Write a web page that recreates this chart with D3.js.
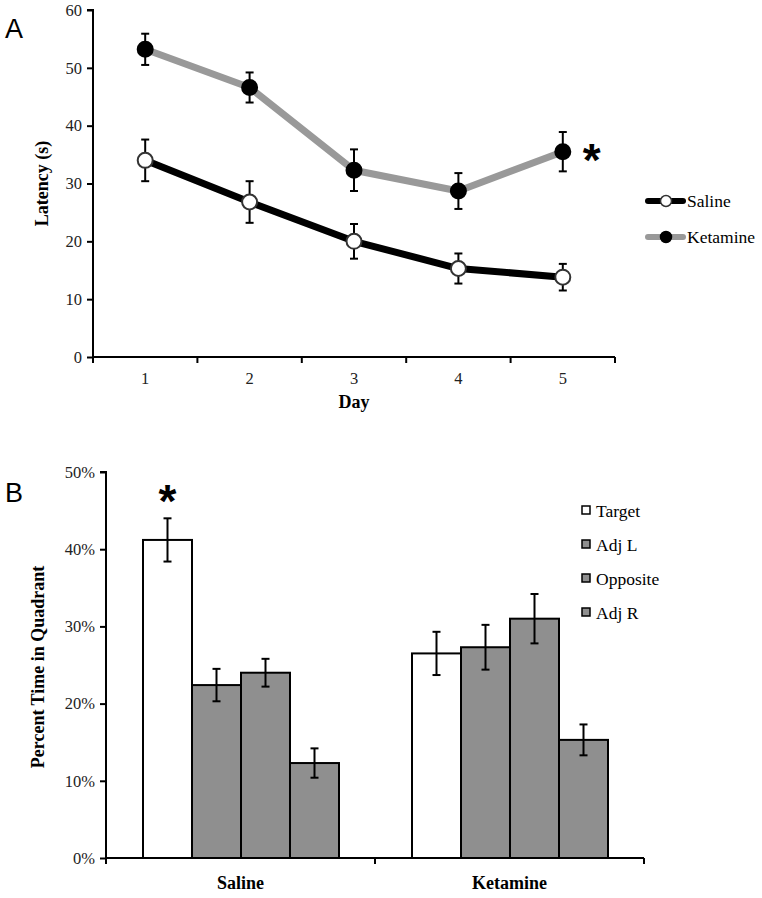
<!DOCTYPE html>
<html><head><meta charset="utf-8">
<script src="https://cdn.jsdelivr.net/npm/d3@7"></script>
<style>body{margin:0;background:#fff}svg{display:block}</style>
</head><body>
<svg id="c" width="762" height="898"></svg>
<script>
// Panel A data
const days = [1, 2, 3, 4, 5];
const salineMean = [34.0, 26.8, 20.0, 15.3, 13.8];
const salineErr  = [3.6, 3.6, 3.0, 2.6, 2.3];
const ketamineMean = [53.2, 46.6, 32.3, 28.7, 35.5];
const ketamineErr  = [2.7, 2.6, 3.6, 3.1, 3.4];
const latencyTicks = [0, 10, 20, 30, 40, 50, 60];

// Panel B data
const groups = ["Saline", "Ketamine"];
const quadrants = ["Target", "Adj L", "Opposite", "Adj R"];
const salinePct = [41.2, 22.4, 24.0, 12.3];
const salinePctErr = [2.8, 2.1, 1.8, 1.9];
const ketaminePct = [26.5, 27.3, 31.0, 15.3];
const ketaminePctErr = [2.8, 2.9, 3.2, 2.0];
const pctTicks = [0, 10, 20, 30, 40, 50];

const svg = d3.select("#c");
const serif = "'Liberation Serif', 'Times New Roman', serif";
const sans = "'Liberation Sans', Arial, sans-serif";

// ---------- Panel A ----------
const xA = d3.scaleBand().domain(days).range([93, 615]).padding(0);
const yA = d3.scaleLinear().domain([0, 60]).range([357, 10]);
const gA = svg.append("g");

const yAxA = d3.axisLeft(yA).tickValues(latencyTicks).tickSize(6).tickPadding(5);
gA.append("g").attr("transform", "translate(93,0)").call(yAxA)
  .call(g => { g.select(".domain").attr("stroke", "#000").attr("stroke-width", 2).attr("d", `M-6,${yA(60)}H0V${yA(0)}`);
               g.selectAll(".tick line").attr("stroke-width", 2);
               g.selectAll("text").attr("font-family", serif).attr("font-size", 16.5).attr("fill", "#222"); });
const xAxA = d3.axisBottom(xA).tickSize(0).tickPadding(15);
gA.append("g").attr("transform", `translate(0,${yA(0)})`).call(xAxA)
  .call(g => { g.select(".domain").attr("stroke", "#000").attr("stroke-width", 2).attr("d", `M93,0H615`);
               g.selectAll("text").attr("font-family", serif).attr("font-size", 16.5).attr("fill", "#222"); });
const edgesA = days.map(d => xA(d)).concat([xA(days[days.length - 1]) + xA.bandwidth()]);
gA.append("g").selectAll("line").data(edgesA).join("line")
  .attr("x1", d => d).attr("x2", d => d).attr("y1", yA(0)).attr("y2", yA(0) + 6)
  .attr("stroke", "#000").attr("stroke-width", 2);

gA.append("text").attr("x", xA(3) + xA.bandwidth() / 2).attr("y", 408).attr("text-anchor", "middle")
  .attr("font-family", serif).attr("font-weight", "bold").attr("font-size", 18).text("Day");
gA.append("text").attr("transform", `translate(48,${(yA(0) + yA(60)) / 2}) rotate(-90)`).attr("text-anchor", "middle")
  .attr("font-family", serif).attr("font-weight", "bold").attr("font-size", 18).text("Latency (s)");
gA.append("text").attr("x", 5).attr("y", 38).attr("font-family", sans).attr("font-size", 27).text("A");

const cx = d => xA(d) + xA.bandwidth() / 2;
const line = d3.line().x(d => cx(d.day)).y(d => yA(d.v));
const series = [
  { name: "Saline", mean: salineMean, err: salineErr, lineColor: "#000", fill: "#fff", stroke: "#333" },
  { name: "Ketamine", mean: ketamineMean, err: ketamineErr, lineColor: "#999", fill: "#000", stroke: "#000" }
];
series.forEach(s => {
  const pts = days.map((d, i) => ({ day: d, v: s.mean[i], e: s.err[i] }));
  gA.append("path").datum(pts).attr("d", line).attr("fill", "none")
    .attr("stroke", s.lineColor).attr("stroke-width", 7).attr("stroke-linejoin", "round");
  const eb = gA.append("g").selectAll("g").data(pts).join("g").attr("stroke", "#000").attr("stroke-width", 2);
  eb.append("line").attr("x1", d => cx(d.day)).attr("x2", d => cx(d.day)).attr("y1", d => yA(d.v - d.e)).attr("y2", d => yA(d.v + d.e));
  eb.append("line").attr("x1", d => cx(d.day) - 4).attr("x2", d => cx(d.day) + 4).attr("y1", d => yA(d.v + d.e)).attr("y2", d => yA(d.v + d.e));
  eb.append("line").attr("x1", d => cx(d.day) - 4).attr("x2", d => cx(d.day) + 4).attr("y1", d => yA(d.v - d.e)).attr("y2", d => yA(d.v - d.e));
  gA.append("g").selectAll("circle").data(pts).join("circle")
    .attr("cx", d => cx(d.day)).attr("cy", d => yA(d.v)).attr("r", 7.5)
    .attr("fill", s.fill).attr("stroke", s.stroke).attr("stroke-width", 2);
});
gA.append("text").attr("x", cx(5) + 29).attr("y", yA(ketamineMean[4]) + 24).attr("text-anchor", "middle")
  .attr("font-family", sans).attr("font-weight", "bold").attr("font-size", 46).text("*");

// legend A
const legA = gA.append("g");
series.forEach((s, i) => {
  const y = 201 + i * 36;
  legA.append("line").attr("x1", 648).attr("x2", 683).attr("y1", y).attr("y2", y)
    .attr("stroke", s.lineColor).attr("stroke-width", 6).attr("stroke-linecap", "round");
  legA.append("circle").attr("cx", 666).attr("cy", y).attr("r", 5.5).attr("fill", s.fill).attr("stroke", s.stroke).attr("stroke-width", 1.5);
  legA.append("text").attr("x", 687).attr("y", y + 6).attr("font-family", serif).attr("font-size", 17.5).text(s.name);
});

// ---------- Panel B ----------
const yB = d3.scaleLinear().domain([0, 50]).range([858, 472]);
const x0 = d3.scaleBand().domain(groups).range([106, 644]).padding(0);
const x1 = d3.scaleBand().domain(quadrants).range([37, x0.bandwidth() - 36]).padding(0);
const gB = svg.append("g");
const yAxB = d3.axisLeft(yB).tickValues(pctTicks).tickSize(6).tickPadding(5).tickFormat(d => d + "%");
gB.append("g").attr("transform", "translate(106,0)").call(yAxB)
  .call(g => { g.select(".domain").attr("stroke", "#000").attr("stroke-width", 2).attr("d", `M-6,${yB(50)}H0V${yB(0)}`);
               g.selectAll(".tick line").attr("stroke-width", 2);
               g.selectAll("text").attr("font-family", serif).attr("font-size", 16.5).attr("fill", "#222"); });
const xAxB = d3.axisBottom(x0).tickSize(0).tickPadding(18);
gB.append("g").attr("transform", `translate(0,${yB(0)})`).call(xAxB)
  .call(g => { g.select(".domain").attr("stroke", "#000").attr("stroke-width", 2).attr("d", `M106,0H644`);
               g.selectAll("text").attr("font-family", serif).attr("font-weight", "bold").attr("font-size", 18).attr("fill", "#000"); });
const edgesB = groups.map(g => x0(g)).concat([x0(groups[1]) + x0.bandwidth()]);
gB.append("g").selectAll("line").data(edgesB).join("line")
  .attr("x1", d => d).attr("x2", d => d).attr("y1", yB(0)).attr("y2", yB(0) + 6)
  .attr("stroke", "#000").attr("stroke-width", 2);

gB.append("text").attr("transform", `translate(44,${(yB(0) + yB(50)) / 2 + 2}) rotate(-90)`).attr("text-anchor", "middle")
  .attr("font-family", serif).attr("font-weight", "bold").attr("font-size", 18).text("Percent Time in Quadrant");
gB.append("text").attr("x", 5).attr("y", 502).attr("font-family", sans).attr("font-size", 27).text("B");

const fills = { "Target": "#fff", "Adj L": "#8f8f8f", "Opposite": "#8f8f8f", "Adj R": "#8f8f8f" };
const barData = [];
groups.forEach((g, gi) => {
  const vals = gi === 0 ? salinePct : ketaminePct;
  const errs = gi === 0 ? salinePctErr : ketaminePctErr;
  quadrants.forEach((q, qi) => barData.push({ g, q, v: vals[qi], e: errs[qi] }));
});
const bx = d => x0(d.g) + x1(d.q);
gB.append("g").selectAll("rect").data(barData).join("rect")
  .attr("x", bx).attr("y", d => yB(d.v)).attr("width", x1.bandwidth()).attr("height", d => yB(0) - yB(d.v))
  .attr("fill", d => fills[d.q]).attr("stroke", "#000").attr("stroke-width", 2);
const ebB = gB.append("g").selectAll("g").data(barData).join("g").attr("stroke", "#000").attr("stroke-width", 2);
const bc = d => bx(d) + x1.bandwidth() / 2;
ebB.append("line").attr("x1", bc).attr("x2", bc).attr("y1", d => yB(d.v - d.e)).attr("y2", d => yB(d.v + d.e));
ebB.append("line").attr("x1", d => bc(d) - 4).attr("x2", d => bc(d) + 4).attr("y1", d => yB(d.v + d.e)).attr("y2", d => yB(d.v + d.e));
ebB.append("line").attr("x1", d => bc(d) - 4).attr("x2", d => bc(d) + 4).attr("y1", d => yB(d.v - d.e)).attr("y2", d => yB(d.v - d.e));
gB.append("text").attr("x", bc(barData[0])).attr("y", yB(salinePct[0] + salinePctErr[0]) - 1).attr("text-anchor", "middle")
  .attr("font-family", sans).attr("font-weight", "bold").attr("font-size", 46).text("*");

const legB = gB.append("g");
quadrants.forEach((q, i) => {
  const y = 511 + i * 34;
  legB.append("rect").attr("x", 582).attr("y", y - 5).attr("width", 8).attr("height", 8)
    .attr("fill", fills[q]).attr("stroke", "#000").attr("stroke-width", 1.5);
  legB.append("text").attr("x", 596).attr("y", y + 6).attr("font-family", serif).attr("font-size", 17.5).text(q);
});
</script>
</body></html>
